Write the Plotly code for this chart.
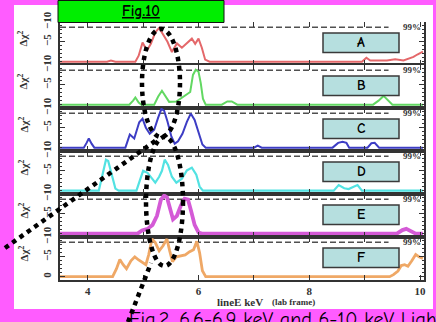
import plotly.graph_objects as go
from plotly.subplots import make_subplots

# ------------------------------------------------------------------ data
panel_labels = ["A", "B", "C", "D", "E", "F"]
line_colors = ["#e4686a", "#62d862", "#3d3dc4", "#52e2e2", "#d45ad6", "#efa866"]
line_widths = [2, 2, 2, 2.2, 3.8, 2.8]

energy_A = [3.5, 4.35, 4.42, 4.5, 4.86, 4.92, 4.99, 5.07, 5.14, 5.22, 5.29, 5.36, 5.44, 5.52,
            5.61, 5.70, 5.79, 5.88, 5.94, 6.00, 6.06, 6.12, 6.2, 8.95, 9.03, 9.1, 9.4, 9.55,
            9.7, 9.8, 9.88, 9.95, 10.05]
dchi_A = [0, 0, -0.3, 0, 0, -1.5, -4.8, -2.8, -4.5, -7.4, -8.5, -7.0, -5.0, -2.4,
          -4.6, -3.5, -4.6, -5.8, -4.5, -5.8, -3.5, -0.5, 0, 0, -1.0, -0.3, -0.3, -0.6,
          -0.3, -0.8, -1.2, -1.8, -2.5]

energy_B = [3.5, 4.75, 4.82, 4.86, 4.92, 4.97, 5.2, 5.27, 5.34, 5.41, 5.47, 5.6, 5.7, 5.8,
            5.85, 5.9, 5.95, 6.0, 6.04, 6.08, 6.13, 6.42, 6.52, 6.6, 6.7, 9.15, 9.25, 9.34,
            9.42, 9.5, 10.05]
dchi_B = [0, 0, -1.0, -1.8, -0.5, 0, 0, -2.0, -3.5, -2.0, -0.7, -0.8, -1.8, -2.8,
          -3.2, -7.5, -8.8, -8.3, -5.5, -1.5, 0, 0, -0.8, -0.8, 0, 0, -1.0, -2.2,
          -1.0, 0, 0]

energy_C = [3.5, 3.93, 3.98, 4.02, 4.07, 4.12, 4.68, 4.76, 4.84, 4.93, 4.99, 5.05, 5.12, 5.2,
            5.27, 5.33, 5.38, 5.44, 5.51, 5.57, 5.63, 5.71, 5.79, 5.86, 5.93, 6.01, 6.07, 6.13,
            7.0, 7.07, 7.14, 8.42, 8.52, 8.6, 8.67, 8.72, 9.05, 9.12, 9.18, 9.26, 10.05]
dchi_C = [0, 0, -1.2, -2.3, -1.0, 0, 0, -3.3, -2.3, -6.4, -7.3, -5.0, -3.5, -4.5,
          -7.5, -9.8, -9.3, -6.6, -2.8, -1.0, -1.6, -3.5, -6.5, -8.6, -7.0, -3.3, -0.8, 0,
          0, -0.5, 0, 0, -1.2, -1.5, -1.2, 0, 0, -1.1, -1.2, 0, 0]

energy_D = [3.5, 4.2, 4.27, 4.33, 4.37, 4.43, 4.5, 4.56, 4.88, 4.94, 5.0, 5.08, 5.16, 5.22,
            5.29, 5.34, 5.39, 5.45, 5.52, 5.6, 5.7, 5.79, 5.88, 5.96, 6.02, 6.08, 8.44, 8.53,
            8.63, 8.71, 8.8, 8.87, 8.95, 10.05]
dchi_D = [0, 0, -4.2, -7.8, -7.5, -4.0, -0.5, 0, 0, -2.5, -5.0, -4.5, -3.2, -2.0,
          -3.5, -5.0, -7.8, -6.5, -3.5, -2.0, -3.0, -5.1, -5.8, -4.0, -1.0, 0, 0, -1.4,
          -0.6, -0.4, -1.0, -1.4, 0, 0]

energy_E = [3.5, 4.9, 4.98, 5.08, 5.17, 5.25, 5.32, 5.38, 5.43, 5.48, 5.54, 5.61, 5.68, 5.75,
            5.81, 5.87, 5.93, 6.0, 6.06, 9.58, 9.68, 9.75, 9.84, 9.92, 10.05]
dchi_E = [0, 0, -0.8, -1.2, -2.2, -4.5, -8.5, -9.6, -9.2, -6.2, -3.6, -4.5, -7.0, -8.8,
          -8.6, -5.5, -2.2, -0.3, 0, 0, -0.9, -1.2, -0.7, 0, 0]

energy_F = [3.5, 4.45, 4.52, 4.58, 4.64, 4.70, 4.78, 4.85, 4.92, 4.98, 5.05, 5.1, 5.16, 5.22,
            5.29, 5.36, 5.43, 5.48, 5.53, 5.6, 5.68, 5.76, 5.84, 5.91, 5.97, 6.02, 6.07, 6.13,
            9.45, 9.52, 9.6, 9.66, 9.72, 9.78, 9.85, 9.92, 9.98, 10.05]
dchi_F = [0, 0, -2.0, -4.3, -3.0, -2.0, -4.0, -5.0, -4.2, -3.6, -3.0, -5.5, -9.5, -8.6,
          -6.5, -7.8, -9.5, -6.5, -3.8, -5.0, -5.3, -5.5, -6.3, -6.8, -8.9, -6.0, -1.5, 0,
          0, -0.5, -1.4, -2.8, -3.0, -2.6, -4.0, -5.6, -5.0, -4.6]

level_99 = -8.7
dash_span = [3.5, 9.43]
x_range = [3.5, 10.07]
y_range = [0.85, -10]
x_tick_vals = [4, 5, 6, 7, 8, 9, 10]
x_tick_text = ["4", "", "6", "", "8", "", "10"]
y_tick_vals = [0, -5, -10]
y_tick_text = ["0", "\u22125", "\u221210"]

panels = [(energy_A, dchi_A), (energy_B, dchi_B), (energy_C, dchi_C),
          (energy_D, dchi_D), (energy_E, dchi_E), (energy_F, dchi_F)]

# ------------------------------------------------------------------ layout helpers
W, H = 436, 322
MAGENTA = "#ff5cff"
FRAME = "#333333"
PLOT_L, PLOT_R = 60, 424
PANEL_TOP, PANEL_H = 22, 43
COMIC = "Comic Sans MS, Comic Neue, Noto Sans, sans-serif"
SERIF = "Liberation Serif, DejaVu Serif, serif"


def fx(p):
    return p / W


def fy(p):
    return 1 - p / H


fig = make_subplots(rows=6, cols=1, shared_xaxes=True, vertical_spacing=0)

for i, (e, d) in enumerate(panels):
    r = i + 1
    fig.add_trace(go.Scatter(x=dash_span, y=[level_99, level_99], mode="lines",
                             line=dict(color="#505050", width=1.5, dash="6px,3px"),
                             hoverinfo="skip", showlegend=False), row=r, col=1)
    fig.add_trace(go.Scatter(x=e, y=d, mode="lines",
                             line=dict(color=line_colors[i], width=line_widths[i]),
                             hoverinfo="skip", showlegend=False), row=r, col=1)

tickfont = dict(family=SERIF, size=11, color=FRAME, weight="bold")

for i in range(6):
    top = PANEL_TOP + PANEL_H * i
    bot = top + PANEL_H
    sfx = "" if i == 0 else str(i + 1)
    last = i == 5
    tv = y_tick_vals if last else y_tick_vals[1:]
    tt = y_tick_text if last else y_tick_text[1:]
    fig.layout["yaxis" + sfx].update(
        domain=[fy(bot), fy(top)], range=y_range, autorange=False, automargin=False,
        tickvals=tv, ticktext=tt, tickangle=-90, ticks="inside", ticklen=5,
        tickcolor=FRAME, tickwidth=1.2, ticklabelstandoff=3,
        minor=dict(dtick=1, tick0=0, ticks="inside", ticklen=2.5, tickcolor=FRAME),
        showline=True, mirror="ticks", linecolor=FRAME, linewidth=1.6,
        showgrid=False, zeroline=False, tickfont=tickfont)
    fig.layout["xaxis" + sfx].update(
        domain=[fx(PLOT_L), fx(PLOT_R)], range=x_range, autorange=False, automargin=False,
        tickvals=x_tick_vals, ticktext=x_tick_text, ticks="inside", ticklen=5,
        tickcolor=FRAME, tickwidth=1.2,
        showline=(i != 0), mirror="ticks", linecolor=FRAME, linewidth=1.6,
        showgrid=False, zeroline=False, showticklabels=last, tickfont=tickfont)

shapes = []
annotations = []


def note(text, px, py, font, **kw):
    d = dict(text=text, xref="paper", yref="paper", x=fx(px), y=fy(py),
             xanchor="center", yanchor="middle", showarrow=False, font=font)
    d.update(kw)
    annotations.append(d)


# white slide panel
shapes.append(dict(type="rect", xref="paper", yref="paper", x0=fx(14), x1=fx(433),
                   y0=fy(309), y1=fy(5), fillcolor="white", line=dict(width=0), layer="below"))
# green title box
shapes.append(dict(type="rect", xref="paper", yref="paper", x0=fx(58), x1=fx(224),
                   y0=fy(22.5), y1=fy(0.5), fillcolor="#00ee00",
                   line=dict(color="#111111", width=1), layer="above"))
note("<u>Fig.10</u>", 141, 11.5, dict(family=COMIC, size=15, color="black", weight="bold"))

for i, lab in enumerate(panel_labels):
    top = PANEL_TOP + PANEL_H * i
    sfx = "" if i == 0 else str(i + 1)
    # label box
    shapes.append(dict(type="rect", xref="paper", yref="paper", x0=fx(323), x1=fx(399),
                       y0=fy(top + 30.5), y1=fy(top + 11), fillcolor="#b6dfdf",
                       line=dict(color="#3a3a3a", width=1.5), layer="above"))
    note(lab, 361, top + 20.5, dict(family=COMIC, size=14, color="black", weight="bold"))
    # 99% label
    annotations.append(dict(text="99%", xref="x" + sfx, yref="y" + sfx, x=10.05, y=level_99,
                            xanchor="right", yanchor="middle", showarrow=False,
                            font=dict(family=SERIF, size=9, color=FRAME, weight="bold")))
    # delta chi^2 label
    note("\u0394\u03c7<sup>2</sup>", 23, top + PANEL_H / 2 - 5,
         dict(family=SERIF, size=11, color=FRAME, weight="bold"), textangle=-90)

note("lineE keV", 240, 302, dict(family=SERIF, size=11, color=FRAME, weight="bold"))
note("(lab frame)", 293, 302, dict(family=SERIF, size=9, color=FRAME, weight="bold"))
note("Fig.2, 6.6-6.9 keV and 6-10 keV Light", 127, 306,
     dict(family=COMIC, size=20, color="black"), xanchor="left", yanchor="top")

# dotted call-out marks
DOTS = dict(color="black", width=4.5, dash="4.5px,4.5px")
shapes.append(dict(type="circle", xref="paper", yref="paper", x0=fx(142), x1=fx(180),
                   y0=fy(137), y1=fy(29), line=DOTS, layer="above"))
shapes.append(dict(type="circle", xref="paper", yref="paper", x0=fx(146), x1=fx(183),
                   y0=fy(266), y1=fy(137), line=DOTS, layer="above"))
shapes.append(dict(type="line", xref="paper", yref="paper", x0=fx(5), y0=fy(248),
                   x1=fx(158), y1=fy(139), line=DOTS, layer="above"))
shapes.append(dict(type="line", xref="paper", yref="paper", x0=fx(128), y0=fy(322),
                   x1=fx(151), y1=fy(263), line=DOTS, layer="above"))

fig.update_layout(width=W, height=H, margin=dict(l=0, r=0, t=0, b=0, autoexpand=False),
                  paper_bgcolor=MAGENTA, plot_bgcolor="rgba(0,0,0,0)",
                  showlegend=False, shapes=shapes, annotations=annotations)

fig.write_html("out.html", config={"displayModeBar": False},
               post_script="document.body.style.margin='0';document.body.style.overflow='hidden';")
